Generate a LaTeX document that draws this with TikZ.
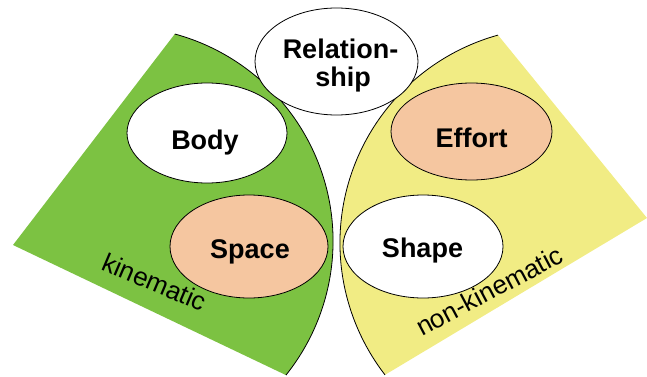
\documentclass[tikz,border=0pt]{standalone}
\usepackage{fontspec}
\setmainfont{Liberation Sans}
\usetikzlibrary{shapes.geometric}
\definecolor{kingreen}{RGB}{124,194,66}
\definecolor{nonyellow}{RGB}{241,236,132}
\definecolor{peach}{RGB}{245,198,160}
\tikzset{
  arcline/.style={draw=black, line width=0.8pt},
  oval/.style={ellipse, draw=black, line width=0.8pt, inner sep=0pt},
  whiteoval/.style={oval, fill=white},
  peachoval/.style={oval, fill=peach},
  boldlabel/.style={font=\fontsize{27}{30}\selectfont\bfseries, anchor=base, inner sep=0pt},
  arealabel/.style={font=\fontsize{26}{30}\selectfont, anchor=base, inner sep=0pt}
}
\begin{document}
\begin{tikzpicture}[x=1pt,y=1pt]
\useasboundingbox (0,0) rectangle (647,376);
% corners of the two areas
\coordinate (gleft) at (13,131);
\coordinate (gtop) at (174.8,342);
\coordinate (yright) at (647,158);
\coordinate (ytop) at (498,340.9);
% kinematic (green) area
\fill[kingreen] (gleft) -- (gtop) arc[start angle=74.8, end angle=-38.7, radius=214.5pt] -- cycle;
\draw[arcline] (gtop) arc[start angle=74.8, end angle=-38.7, radius=214.5pt];
% non-kinematic (yellow) area
\fill[nonyellow] (yright) -- (ytop) arc[start angle=105.5, end angle=217.7, radius=215.7pt] -- cycle;
\draw[arcline] (ytop) arc[start angle=105.5, end angle=217.7, radius=215.7pt];
% ellipses
\node[whiteoval, minimum width=163pt, minimum height=107pt] (rel) at (336.5,314.5) {};
\node[whiteoval, minimum width=160pt, minimum height=100pt] (body) at (207,243) {};
\node[peachoval, minimum width=158pt, minimum height=103pt] (space) at (249,129.5) {};
\node[peachoval, minimum width=161pt, minimum height=97pt] (effort) at (471.5,244.5) {};
\node[whiteoval, minimum width=160pt, minimum height=103pt] (shape) at (423,129.5) {};
% texts
\node[boldlabel] (reltxt1) at (340.5,318) {Relation-};
\node[boldlabel] (reltxt2) at (343,290) {ship};
\node[boldlabel] (bodytxt) at (205,227) {Body};
\node[boldlabel] (spacetxt) at (250,118) {Space};
\node[boldlabel] (efforttxt) at (471.5,229) {Effort};
\node[boldlabel] (shapetxt) at (422.5,119) {Shape};
\node[arealabel, rotate=-23] (kin) at (151,85.5) {kinematic};
\node[arealabel, rotate=28] (nonkin) at (493.5,77) {non-kinematic};
\end{tikzpicture}
\end{document}
